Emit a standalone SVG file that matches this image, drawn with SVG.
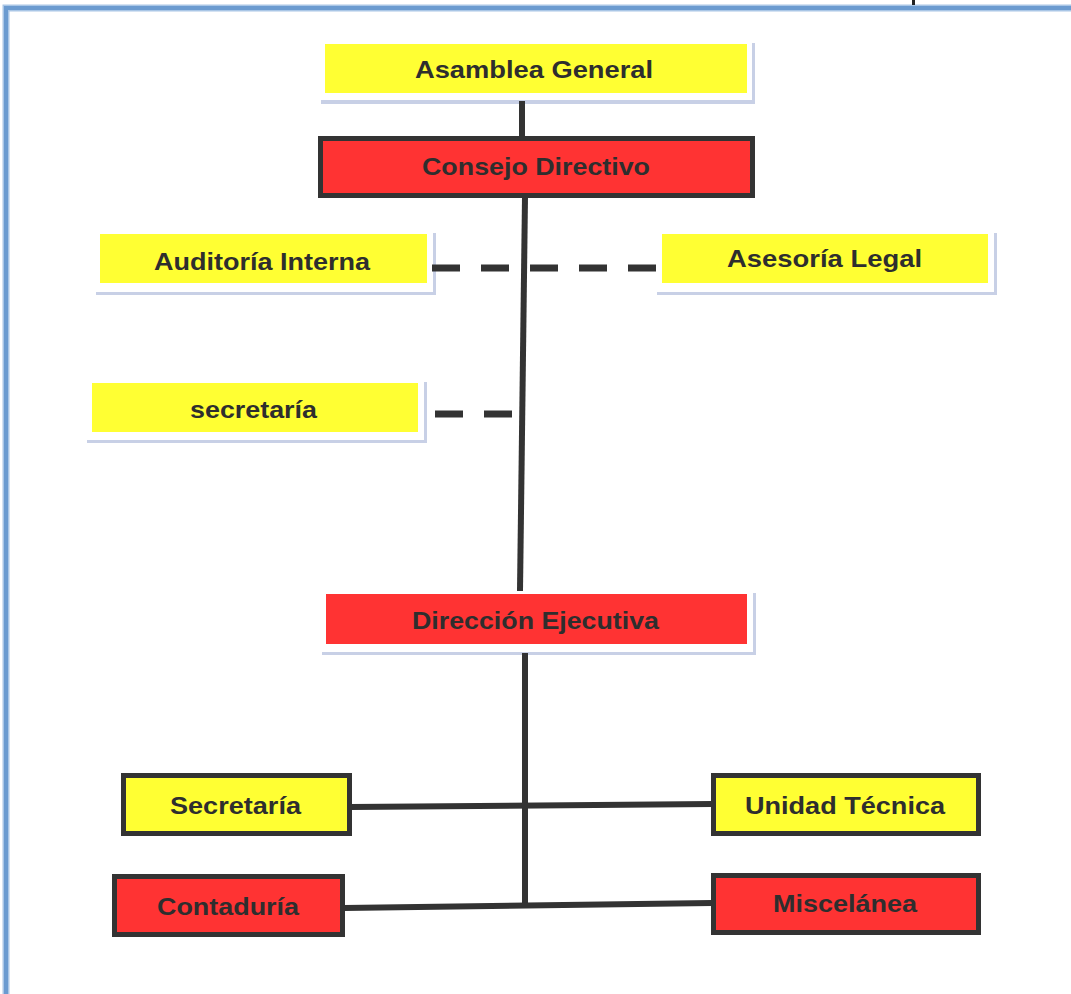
<svg xmlns="http://www.w3.org/2000/svg" width="1071" height="994" viewBox="0 0 1071 994">
  <style>
    .lbl { font-family: "Liberation Sans", Arial, sans-serif; font-weight: bold; font-size: 24px; fill: #2e2e2e; text-anchor: middle; }
    .yel { fill: #ffff33; }
    .red { fill: #ff3333; }
    .boxed { stroke: #333333; stroke-width: 5; }
    .card { fill: #ffffff; }
    .shadow { fill: #c8d0e6; }
    .solid { stroke: #333333; stroke-width: 6; fill: none; }
    .dash { stroke: #333333; stroke-width: 7; fill: none; stroke-dasharray: 28 21; }
  </style>

  <rect width="1071" height="994" fill="#ffffff"/>

  <!-- page frame -->
  <path d="M6,994 V8 H1071" fill="none" stroke="#a9c6e6" stroke-width="7"/>
  <path d="M6,994 V8 H1071" fill="none" stroke="#6b9bd0" stroke-width="4"/>
  <rect x="912" y="0" width="3" height="5" fill="#222222"/>

  <!-- nodes -->
  <g id="asamblea-general">
    <rect class="shadow" x="321" y="43" width="434" height="61"/>
    <rect class="card" x="318" y="40" width="434" height="60"/>
    <rect class="yel" x="325" y="44" width="422" height="49"/>
    <text class="lbl" x="534" y="78" textLength="238" lengthAdjust="spacingAndGlyphs">Asamblea General</text>
  </g>

  <g id="consejo-directivo">
    <rect class="red boxed" x="320.5" y="138.5" width="432" height="57"/>
    <text class="lbl" x="536" y="175" textLength="228" lengthAdjust="spacingAndGlyphs">Consejo Directivo</text>
  </g>

  <g id="auditoria-interna">
    <rect class="shadow" x="96" y="233" width="340" height="62"/>
    <rect class="card" x="93" y="230" width="340" height="62"/>
    <rect class="yel" x="100" y="234" width="327" height="49"/>
    <text class="lbl" x="262" y="270" textLength="216" lengthAdjust="spacingAndGlyphs">Auditoría Interna</text>
  </g>

  <g id="asesoria-legal">
    <rect class="shadow" x="657" y="233" width="340" height="62"/>
    <rect class="card" x="654" y="230" width="340" height="62"/>
    <rect class="yel" x="662" y="234" width="326" height="49"/>
    <text class="lbl" x="824.5" y="267" textLength="195" lengthAdjust="spacingAndGlyphs">Asesoría Legal</text>
  </g>

  <g id="secretaria-apoyo">
    <rect class="shadow" x="87" y="382" width="340" height="61"/>
    <rect class="card" x="84" y="379" width="340" height="61"/>
    <rect class="yel" x="92" y="383" width="326" height="49"/>
    <text class="lbl" x="253.5" y="418" textLength="127" lengthAdjust="spacingAndGlyphs">secretaría</text>
  </g>

  <g id="direccion-ejecutiva">
    <rect class="shadow" x="322" y="593" width="434" height="62"/>
    <rect class="card" x="319" y="590" width="434" height="62"/>
    <rect class="red" x="326" y="594" width="421" height="50"/>
    <text class="lbl" x="535.5" y="629" textLength="247" lengthAdjust="spacingAndGlyphs">Dirección Ejecutiva</text>
  </g>

  <g id="secretaria">
    <rect class="yel boxed" x="123.5" y="775.5" width="226" height="58"/>
    <text class="lbl" x="235.5" y="814" textLength="131" lengthAdjust="spacingAndGlyphs">Secretaría</text>
  </g>

  <g id="unidad-tecnica">
    <rect class="yel boxed" x="713.5" y="775.5" width="265" height="58"/>
    <text class="lbl" x="845" y="814" textLength="200" lengthAdjust="spacingAndGlyphs">Unidad Técnica</text>
  </g>

  <g id="contaduria">
    <rect class="red boxed" x="114.5" y="876.5" width="228" height="58"/>
    <text class="lbl" x="228" y="915" textLength="142" lengthAdjust="spacingAndGlyphs">Contaduría</text>
  </g>

  <g id="miscelanea">
    <rect class="red boxed" x="713.5" y="875.5" width="265" height="57"/>
    <text class="lbl" x="845" y="912" textLength="144" lengthAdjust="spacingAndGlyphs">Miscelánea</text>
  </g>

  <!-- connectors, drawn over the card shadows -->
  <g id="connectors">
    <line class="solid" x1="522" y1="101" x2="522" y2="137"/>
    <line class="solid" x1="525" y1="197" x2="520" y2="591"/>
    <line class="dash" x1="432" y1="268" x2="656" y2="268"/>
    <line class="dash" x1="435" y1="414" x2="513" y2="414"/>
    <line class="solid" x1="525" y1="653" x2="525" y2="906"/>
    <line class="solid" x1="351" y1="807" x2="712" y2="804"/>
    <line class="solid" x1="344" y1="908" x2="712" y2="903"/>
  </g>
</svg>
